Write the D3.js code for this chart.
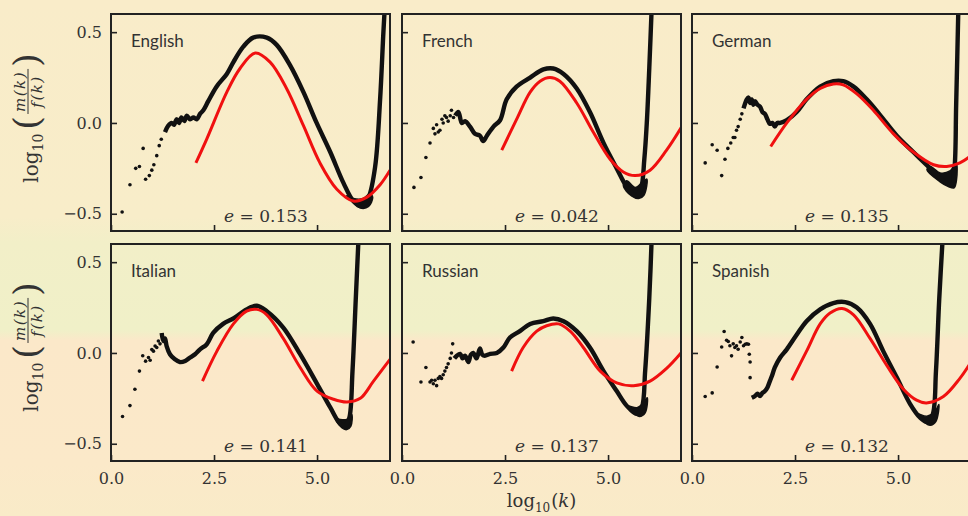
<!DOCTYPE html>
<html><head><meta charset="utf-8">
<script src="https://cdn.jsdelivr.net/npm/d3@7"></script>
<style>body{margin:0;background:#f9ecc9}svg{display:block}</style>
</head><body>
<svg id="c" width="968" height="516"></svg>
<script>
const languages = ["English","French","German","Italian","Russian","Spanish"];
const eValues = ["0.153","0.042","0.135","0.141","0.137","0.132"];
const xTicks = [0, 2.5, 5.0];
const yTicks = [-0.5, 0, 0.5];

const englishDots = [[0.27,-0.49],[0.46,-0.34],[0.6,-0.25],[0.69,-0.24],[0.78,-0.14],[0.84,-0.31],[0.93,-0.29],[0.99,-0.26],[1.04,-0.23],[1.11,-0.18],[1.17,-0.125],[1.22,-0.09]];
const englishCurve = [[1.31,-0.05],[1.39,-0.015],[1.47,0.0],[1.53,-0.01],[1.59,0.02],[1.65,0.0],[1.71,0.03],[1.78,0.01],[1.84,0.04],[1.92,0.02],[2.0,0.03],[2.08,0.02],[2.16,0.05],[2.24,0.07],[2.36,0.12],[2.56,0.2],[2.81,0.27],[2.97,0.335],[3.21,0.42],[3.45,0.47],[3.78,0.47],[4.02,0.43],[4.34,0.32],[4.67,0.17],[4.99,0.0],[5.32,-0.16],[5.64,-0.33],[5.88,-0.43],[6.08,-0.46],[6.25,-0.41],[6.41,-0.24],[6.53,0.13],[6.61,0.5],[6.66,0.7]];
const englishPlume = [[5.72,-0.4],[5.92,-0.447],[6.08,-0.47],[6.25,-0.46],[6.35,-0.41],[6.28,-0.39],[6.12,-0.416],[5.88,-0.416]];
const englishFit = [[2.06,-0.22],[2.32,-0.09],[2.81,0.17],[3.13,0.3],[3.5,0.385],[3.86,0.335],[4.26,0.19],[4.67,-0.015],[5.07,-0.22],[5.48,-0.365],[5.88,-0.43],[6.2,-0.41],[6.53,-0.34],[6.77,-0.26]];

const frenchDots = [[0.29,-0.355],[0.46,-0.30],[0.58,-0.19],[0.68,-0.11],[0.76,-0.03],[0.80,-0.06],[0.84,-0.01],[0.88,-0.05],[0.92,-0.04],[0.97,0.02],[1.0,0.0],[1.04,0.04],[1.08,0.03],[1.12,0.01],[1.17,0.04],[1.2,0.07],[1.25,0.03]];
const frenchCurve = [[1.29,0.04],[1.37,0.06],[1.45,0.0],[1.53,0.01],[1.65,-0.02],[1.77,-0.06],[1.89,-0.07],[1.97,-0.1],[2.06,-0.07],[2.22,-0.02],[2.38,0.015],[2.54,0.13],[2.78,0.2],[3.11,0.25],[3.43,0.295],[3.67,0.3],[3.92,0.27],[4.24,0.19],[4.56,0.06],[4.89,-0.11],[5.21,-0.25],[5.45,-0.35],[5.68,-0.40],[5.80,-0.36],[5.88,-0.2],[5.94,0.0],[6.0,0.3],[6.07,0.7]];
const frenchPlume = [[5.37,-0.346],[5.57,-0.402],[5.74,-0.416],[5.87,-0.398],[5.94,-0.309],[5.84,-0.324],[5.66,-0.355],[5.45,-0.318]];
const frenchFit = [[2.42,-0.15],[2.78,0.02],[3.11,0.17],[3.35,0.23],[3.59,0.25],[3.83,0.23],[4.24,0.11],[4.64,-0.05],[5.05,-0.2],[5.37,-0.27],[5.66,-0.29],[6.02,-0.26],[6.42,-0.15],[6.79,-0.02]];

const germanDots = [[0.32,-0.22],[0.49,-0.12],[0.61,-0.15],[0.72,-0.29],[0.8,-0.2],[0.87,-0.14],[0.94,-0.11],[1.0,-0.08],[1.04,-0.08],[1.08,-0.04],[1.12,-0.02],[1.17,0.02],[1.21,0.05]];
const germanCurve = [[1.25,0.08],[1.33,0.13],[1.37,0.14],[1.41,0.11],[1.45,0.13],[1.49,0.10],[1.53,0.12],[1.59,0.1],[1.65,0.09],[1.71,0.06],[1.77,0.05],[1.83,0.02],[1.89,-0.005],[1.95,0.0],[2.01,-0.02],[2.07,0.0],[2.14,0.0],[2.3,0.015],[2.54,0.06],[2.78,0.13],[3.11,0.2],[3.43,0.23],[3.67,0.23],[3.92,0.2],[4.24,0.13],[4.56,0.045],[4.97,-0.07],[5.37,-0.16],[5.78,-0.25],[6.1,-0.32],[6.3,-0.34],[6.37,-0.25],[6.41,0.1],[6.47,0.7]];
const germanPlume = [[5.7,-0.258],[6.02,-0.324],[6.22,-0.35],[6.36,-0.357],[6.42,-0.31],[6.41,-0.22],[6.26,-0.264],[6.02,-0.275],[5.78,-0.24]];
const germanFit = [[1.91,-0.13],[2.3,0.0],[2.78,0.13],[3.11,0.19],[3.43,0.215],[3.67,0.21],[4.0,0.16],[4.4,0.07],[4.89,-0.06],[5.37,-0.16],[5.86,-0.23],[6.18,-0.24],[6.5,-0.22],[6.77,-0.18]];

const italianDots = [[0.28,-0.35],[0.46,-0.29],[0.58,-0.2],[0.69,-0.1],[0.77,-0.015],[0.84,-0.045],[0.91,-0.025],[0.95,-0.04],[0.99,0.019],[1.03,0.01],[1.07,0.038],[1.11,0.03],[1.15,0.066],[1.19,0.05]];
const italianCurve = [[1.23,0.11],[1.27,0.066],[1.31,0.08],[1.35,0.038],[1.43,-0.007],[1.55,-0.035],[1.67,-0.05],[1.8,-0.044],[1.92,-0.025],[2.04,-0.007],[2.16,0.02],[2.32,0.047],[2.48,0.11],[2.72,0.16],[2.97,0.19],[3.29,0.24],[3.54,0.26],[3.78,0.23],[4.18,0.14],[4.59,-0.007],[5.0,-0.17],[5.32,-0.3],[5.56,-0.39],[5.68,-0.40],[5.78,-0.36],[5.86,-0.1],[5.94,0.3],[6.02,0.7]];
const italianPlume = [[5.44,-0.357],[5.6,-0.412],[5.72,-0.422],[5.82,-0.403],[5.84,-0.339],[5.72,-0.366],[5.56,-0.366]];
const italianFit = [[2.22,-0.155],[2.57,0.01],[2.97,0.16],[3.29,0.23],[3.54,0.24],[3.78,0.21],[4.18,0.08],[4.59,-0.08],[5.0,-0.21],[5.4,-0.255],[5.73,-0.27],[6.05,-0.25],[6.37,-0.155],[6.77,-0.035]];

const russianDots = [[0.27,0.06],[0.46,-0.16],[0.58,-0.08],[0.68,-0.16],[0.72,-0.15],[0.76,-0.17],[0.8,-0.15],[0.84,-0.18],[0.88,-0.14],[0.92,-0.13],[0.96,-0.14],[1.0,-0.12],[1.04,-0.1],[1.08,-0.08],[1.12,-0.06],[1.17,-0.03],[1.2,0.0],[1.23,0.05]];
const russianCurve = [[1.27,-0.03],[1.33,-0.015],[1.41,-0.005],[1.47,-0.03],[1.53,-0.015],[1.61,-0.05],[1.67,-0.01],[1.73,0.0],[1.81,-0.03],[1.89,0.025],[1.95,-0.01],[2.01,-0.015],[2.14,-0.005],[2.3,0.0],[2.46,0.03],[2.62,0.085],[2.86,0.12],[3.11,0.16],[3.43,0.175],[3.67,0.19],[3.92,0.175],[4.24,0.12],[4.56,0.03],[4.89,-0.1],[5.21,-0.21],[5.45,-0.29],[5.69,-0.335],[5.82,-0.30],[5.9,-0.1],[6.0,0.3],[6.07,0.7]];
const russianPlume = [[5.49,-0.293],[5.66,-0.339],[5.76,-0.35],[5.9,-0.33],[5.95,-0.246],[5.86,-0.274],[5.7,-0.302]];
const russianFit = [[2.66,-0.1],[2.94,0.03],[3.27,0.12],[3.51,0.15],[3.8,0.16],[4.08,0.12],[4.4,0.03],[4.81,-0.1],[5.21,-0.165],[5.62,-0.18],[6.02,-0.155],[6.42,-0.085],[6.77,0.0]];

const spanishDots = [[0.32,-0.24],[0.49,-0.22],[0.61,-0.077],[0.72,0.033],[0.78,0.118],[0.84,0.07],[0.88,0.063],[0.92,0.04],[0.96,-0.016],[1.0,0.05],[1.04,0.03],[1.08,0.04],[1.12,0.02],[1.17,0.06],[1.21,0.085],[1.25,0.04],[1.29,0.048],[1.33,0.05],[1.37,0.048],[1.39,-0.007],[1.41,-0.05],[1.41,-0.136]];
const spanishCurve = [[1.45,-0.247],[1.53,-0.237],[1.59,-0.225],[1.65,-0.237],[1.71,-0.22],[1.77,-0.21],[1.83,-0.19],[1.89,-0.155],[1.95,-0.12],[2.01,-0.08],[2.14,-0.025],[2.3,0.02],[2.54,0.1],[2.78,0.175],[3.11,0.24],[3.43,0.275],[3.72,0.28],[4.0,0.25],[4.32,0.16],[4.64,0.01],[4.97,-0.135],[5.29,-0.28],[5.53,-0.355],[5.71,-0.38],[5.84,-0.34],[5.92,-0.1],[6.0,0.3],[6.1,0.7]];
const spanishPlume = [[5.47,-0.335],[5.66,-0.385],[5.78,-0.398],[5.92,-0.376],[5.99,-0.284],[5.9,-0.321],[5.7,-0.348]];
const spanishFit = [[2.42,-0.15],[2.78,0.01],[3.11,0.16],[3.35,0.22],[3.64,0.245],[3.92,0.21],[4.32,0.08],[4.73,-0.07],[5.13,-0.2],[5.45,-0.26],[5.69,-0.275],[6.1,-0.24],[6.5,-0.14],[6.77,-0.05]];

const dotsList = [englishDots, frenchDots, germanDots, italianDots, russianDots, spanishDots];
const curveList = [englishCurve, frenchCurve, germanCurve, italianCurve, russianCurve, spanishCurve];
const plumeList = [englishPlume, frenchPlume, germanPlume, italianPlume, russianPlume, spanishPlume];
const fitList = [englishFit, frenchFit, germanFit, italianFit, russianFit, spanishFit];

const W = 968, H = 516;
const svg = d3.select("#c");
const defs = svg.append("defs");
const bg = defs.append("linearGradient").attr("id","bg").attr("x1",0).attr("y1",0).attr("x2",0).attr("y2",1);
[[0,"#f9ecc9"],[0.42,"#f8edc9"],[0.47,"#f2efc8"],[0.64,"#f0f0c8"],[0.66,"#fbe8c9"],[0.9,"#fbe9c9"],[1,"#f9ebc8"]]
  .forEach(([o,c]) => bg.append("stop").attr("offset",o).attr("stop-color",c));
svg.append("rect").attr("width",W).attr("height",H).attr("fill","url(#bg)");

const panelW = 279, panelH = 217;
const colX = [111, 402, 692];
const rowY = [14, 244];
const serif = "'DejaVu Serif', serif";
const textColor = "#333";

const x = d3.scaleLinear().domain([0, 6.77]).range([0, panelW]);
const y = d3.scaleLinear().domain([-0.595, 0.6]).range([panelH, 0]);
const line = d3.line().x(d => x(d[0])).y(d => y(d[1])).curve(d3.curveCatmullRom.alpha(0.5));
const closed = d3.line().x(d => x(d[0])).y(d => y(d[1])).curve(d3.curveCatmullRomClosed.alpha(0.5));

languages.forEach((lang, i) => {
  const r = Math.floor(i / 3), c = i % 3;
  const g = svg.append("g").attr("transform", `translate(${colX[c]},${rowY[r]})`);
  const cid = "clip" + i;
  defs.append("clipPath").attr("id", cid).append("rect").attr("width", panelW).attr("height", panelH);
  const plot = g.append("g").attr("clip-path", `url(#${cid})`);

  plot.append("path").datum(plumeList[i]).attr("d", closed)
    .attr("fill","#111").attr("stroke","#111").attr("stroke-width",1.5);
  plot.append("path").datum(curveList[i]).attr("d", line)
    .attr("fill","none").attr("stroke","#111").attr("stroke-width",4.4).attr("stroke-linejoin","round");
  plot.selectAll("circle.dot").data(dotsList[i]).join("circle")
    .attr("class","dot").attr("cx", d => x(d[0])).attr("cy", d => y(d[1])).attr("r", 1.8).attr("fill","#111");
  plot.append("path").datum(fitList[i]).attr("d", line)
    .attr("fill","none").attr("stroke","#f01010").attr("stroke-width",3);

  const ya = d3.axisLeft(y).tickValues(yTicks).tickSize(-6).tickPadding(9).tickFormat(d3.format(".1f"));
  const yg = g.append("g").call(ya);
  const xa = d3.axisBottom(x).tickValues(xTicks).tickSize(-6).tickPadding(12).tickFormat(d3.format(".1f"));
  const xg = g.append("g").attr("transform", `translate(0,${panelH})`).call(xa);
  [yg, xg].forEach(a => {
    a.select(".domain").remove();
    a.selectAll("line").attr("stroke","#222").attr("stroke-width",1.6);
    a.selectAll("text").attr("font-family", serif).attr("font-size", 16).attr("fill", textColor);
  });
  if (c !== 0) yg.selectAll("text").remove();
  if (r !== 1) xg.selectAll("text").remove();

  g.append("rect").attr("width", panelW).attr("height", panelH)
    .attr("fill","none").attr("stroke","#222").attr("stroke-width",2);

  g.append("text").attr("x", 20).attr("y", 33).text(lang)
    .attr("font-family","Lato, sans-serif").attr("font-size",17).attr("fill",textColor);

  const et = g.append("text").attr("x", 155).attr("y", panelH - 9).attr("text-anchor","middle")
    .attr("font-family", serif).attr("font-size",17).attr("fill",textColor);
  et.append("tspan").attr("font-style","italic").text("e");
  et.append("tspan").text(" = " + eValues[i]);
});

function yLabel(cx, cy) {
  const outer = svg.append("g").attr("transform", `translate(${cx},${cy}) rotate(-90)`);
  const g = outer.append("g");
  let pos = 0;
  const t = (txt, size, yy, italic) => g.append("text").attr("x", pos).attr("y", yy).text(txt)
      .attr("font-family", serif).attr("font-size", size).attr("fill", textColor)
      .attr("font-style", italic ? "italic" : "normal");
  let e = t("log", 20, 0); pos += e.node().getComputedTextLength();
  e = t("10", 14, 5); pos += e.node().getComputedTextLength() + 4;
  e = t("(", 35, 1); pos += e.node().getComputedTextLength() + 2;
  const num = g.append("text").attr("y", -13).text("m(k)").attr("font-family", serif)
    .attr("font-size", 15).attr("letter-spacing", 1.5).attr("font-style","italic").attr("fill", textColor).attr("text-anchor","middle");
  const den = g.append("text").attr("y", 4).text("f(k)").attr("font-family", serif)
    .attr("font-size", 15).attr("letter-spacing", 1.5).attr("font-style","italic").attr("fill", textColor).attr("text-anchor","middle");
  const fw = Math.max(num.node().getComputedTextLength(), den.node().getComputedTextLength()) + 4;
  num.attr("x", pos + fw/2); den.attr("x", pos + fw/2);
  g.append("line").attr("x1", pos).attr("x2", pos + fw).attr("y1", -10).attr("y2", -10)
    .attr("stroke", textColor).attr("stroke-width", 1);
  pos += fw + 2;
  e = t(")", 35, 1); pos += e.node().getComputedTextLength();
  g.attr("transform", `translate(${-pos/2},0)`);
}
yLabel(38, 118);
yLabel(38, 347);

(function(){
  const g = svg.append("g");
  let pos = 0;
  const parts = [["log",18,0,false],["10",12,5,false],["(",18,0,false],["k",18,0,true],[")",18,0,false]];
  parts.forEach(([txt,size,yy,it]) => {
    const el = g.append("text").attr("x", pos).attr("y", yy).text(txt)
      .attr("font-family", serif).attr("font-size", size).attr("fill", textColor)
      .attr("font-style", it ? "italic" : "normal");
    pos += el.node().getComputedTextLength() + (txt === "10" ? 1 : 0);
  });
  g.attr("transform", `translate(${colX[1] + panelW/2 - pos/2},507)`);
})();
</script>
</body></html>
